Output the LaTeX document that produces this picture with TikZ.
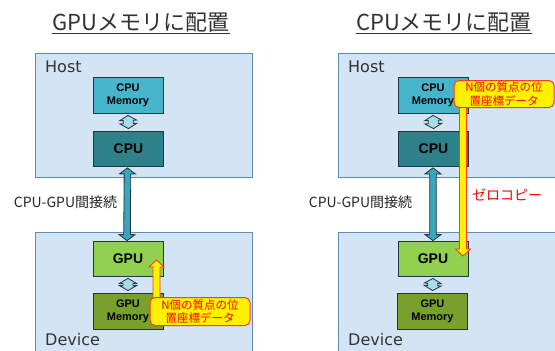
\documentclass[tikz,border=0pt]{standalone}
\usepackage{fontspec}
\setmainfont{DejaVu Sans}
\newfontfamily\jp{Noto Sans CJK JP}
\newfontfamily\lib{Liberation Sans}
\usetikzlibrary{calc}
\definecolor{regionbg}{HTML}{D3E4F5}
\definecolor{regionborder}{HTML}{5B8DB0}
\definecolor{boxborder}{HTML}{23363F}
\definecolor{cpumemc}{HTML}{46B5CB}
\definecolor{cpuc}{HTML}{2E8189}
\definecolor{gpuc}{HTML}{92D050}
\definecolor{gpumemc}{HTML}{78A02C}
\definecolor{smallarrowc}{HTML}{A6DDE8}
\definecolor{bigarrowc}{HTML}{3AA6BB}
\definecolor{calloutred}{HTML}{FF3A2A}
\definecolor{textgray}{HTML}{333333}
\newcommand\sglarrow[6]{%
  \coordinate (hb) at ($(#3)!#6!(#2)$);
  \draw[#1] ($(#2)!#4!90:(#3)$) -- ($(hb)!#4!-90:(#2)$) -- ($(hb)!#5!-90:(#2)$) -- (#3) -- ($(hb)!#5!90:(#2)$) -- ($(hb)!#4!90:(#2)$) -- ($(#2)!#4!-90:(#3)$) -- cycle;}
\newcommand\dblarrow[6]{%
  \coordinate (ha) at ($(#2)!#6!(#3)$);
  \coordinate (hb) at ($(#3)!#6!(#2)$);
  \draw[#1] (#2) -- ($(ha)!#5!90:(#3)$) -- ($(ha)!#4!90:(#3)$) -- ($(hb)!#4!-90:(#2)$) -- ($(hb)!#5!-90:(#2)$) -- (#3) -- ($(hb)!#5!90:(#2)$) -- ($(hb)!#4!90:(#2)$) -- ($(ha)!#4!-90:(#3)$) -- ($(ha)!#5!-90:(#3)$) -- cycle;}
\tikzset{
  region/.style={draw=regionborder, fill=regionbg, line width=1pt},
  box/.style={draw=boxborder, line width=0.8pt, minimum width=70pt, minimum height=36pt, inner sep=0pt, align=center, font=\lib\bfseries\fontsize{14}{16}\selectfont},
  membox/.style={box, font=\lib\bfseries\fontsize{11}{13}\selectfont},
  callout/.style={draw=calloutred, fill=yellow, rounded corners=5pt, line width=1pt, minimum width=100pt, minimum height=28pt, align=center, inner sep=0pt, text=red, font=\jp\fontsize{11.5}{13.5}\selectfont},
  title/.style={inner sep=0pt, anchor=base, text=textgray, font=\jp\fontsize{22}{24}\selectfont},
  underl/.style={textgray, line width=1.2pt},
  regionlabel/.style={inner sep=0pt, anchor=base west, text=textgray, font=\fontsize{16}{18}\selectfont},
  linklabel/.style={inner sep=0pt, anchor=base, text=black!85, font=\jp\fontsize{14}{16}\selectfont},
  smallarrow/.style={fill=smallarrowc, draw=boxborder, line width=0.8pt},
  bigarrow/.style={fill=bigarrowc, draw=boxborder, line width=0.8pt},
  yarrow/.style={fill=yellow, draw=calloutred, line width=0.9pt},
}
\begin{document}
\begin{tikzpicture}[x=1pt,y=-1pt]
\useasboundingbox (0,0) rectangle (555,351);
\clip (0,0) rectangle (555,351);
\fill[white] (0,0) rectangle (555,351);
% titles
\node[title] (titleL) at (141,30) {GPUメモリに配置};
\draw[underl] ($(titleL.base west)+(0,3.5)$) -- ($(titleL.base east)+(0,3.5)$);
\node[title] (titleR) at (444,30) {CPUメモリに配置};
\draw[underl] ($(titleR.base west)+(0,3.5)$) -- ($(titleR.base east)+(0,3.5)$);
% regions
\draw[region] (35,53) rectangle (252,177);
\draw[region] (35,232) rectangle (252,370);
\draw[region] (338,53) rectangle (575,177);
\draw[region] (338,232) rectangle (575,370);
\node[regionlabel] (hostL) at (45,72) {Host};
\node[regionlabel] (devL) at (45,345) {Device};
\node[regionlabel] (hostR) at (348,72) {Host};
\node[regionlabel] (devR) at (348,345) {Device};
% left boxes
\node[membox, fill=cpumemc] (cpumemL) at (128,95) {CPU\\Memory};
\node[box, fill=cpuc, minimum height=35pt] (cpuL) at (128.5,148.5) {CPU};
\node[box, fill=gpuc, minimum height=35pt] (gpuL) at (128,258.5) {GPU};
\node[membox, fill=gpumemc] (gpumemL) at (128,311) {GPU\\Memory};
% right boxes
\node[membox, fill=cpumemc] (cpumemR) at (433,95) {CPU\\Memory};
\node[box, fill=cpuc, minimum height=35pt] (cpuR) at (433.5,148.5) {CPU};
\node[box, fill=gpuc, minimum height=35pt] (gpuR) at (433,258.5) {GPU};
\node[membox, fill=gpumemc] (gpumemR) at (432.5,311) {GPU\\Memory};
% link labels
\node[linklabel] (linkL) at (65.5,207) {CPU-GPU間接続};
\node[linklabel] (linkR) at (360.5,207) {CPU-GPU間接続};
\node[linklabel, text=red] (zero) at (507,200) {ゼロコピー};
% small arrows
\coordinate (sLa) at ($(cpumemL.south)+(0,2)$);
\coordinate (sLb) at ($(cpuL.north)+(0,-2)$);
\dblarrow{smallarrow}{sLa}{sLb}{5pt}{8.5pt}{5pt}
\coordinate (sL2a) at ($(gpuL.south)+(0,2)$);
\coordinate (sL2b) at ($(gpumemL.north)+(0,-2)$);
\dblarrow{smallarrow}{sL2a}{sL2b}{5pt}{8.5pt}{5pt}
\coordinate (sRa) at ($(cpumemR.south)+(0,2)$);
\coordinate (sRb) at ($(cpuR.north)+(0,-2)$);
\dblarrow{smallarrow}{sRa}{sRb}{5pt}{8.5pt}{5pt}
\coordinate (sR2a) at ($(gpuR.south)+(0,2)$);
\coordinate (sR2b) at ($(gpumemR.north)+(0,-2)$);
\dblarrow{smallarrow}{sR2a}{sR2b}{5pt}{8.5pt}{5pt}
% big arrows
\coordinate (bLa) at ($(cpuL.south)+(-1,1.5)$);
\coordinate (bLb) at ($(gpuL.north)+(-1,0)$);
\dblarrow{bigarrow}{bLa}{bLb}{3.3pt}{8pt}{6pt}
\coordinate (bRa) at ($(cpuR.south)+(-0.5,1.5)$);
\coordinate (bRb) at ($(gpuR.north)+(0,0)$);
\dblarrow{bigarrow}{bRa}{bRb}{3.3pt}{8pt}{6pt}
% yellow arrows
\coordinate (yLs) at (156.5,302);
\coordinate (yLt) at (156.5,260);
\sglarrow{yarrow}{yLs}{yLt}{3.5pt}{7.5pt}{7pt}
\coordinate (yRs) at (463,100);
\coordinate (yRt) at (463,256);
\sglarrow{yarrow}{yRs}{yRt}{3.5pt}{7.5pt}{7pt}
% callouts
\node[callout] (calloutL) at (200,311.5) {N個の質点の位\\置座標データ};
\node[callout, minimum height=27pt] (calloutR) at (504,94) {N個の質点の位\\置座標データ};
\end{tikzpicture}
\end{document}
